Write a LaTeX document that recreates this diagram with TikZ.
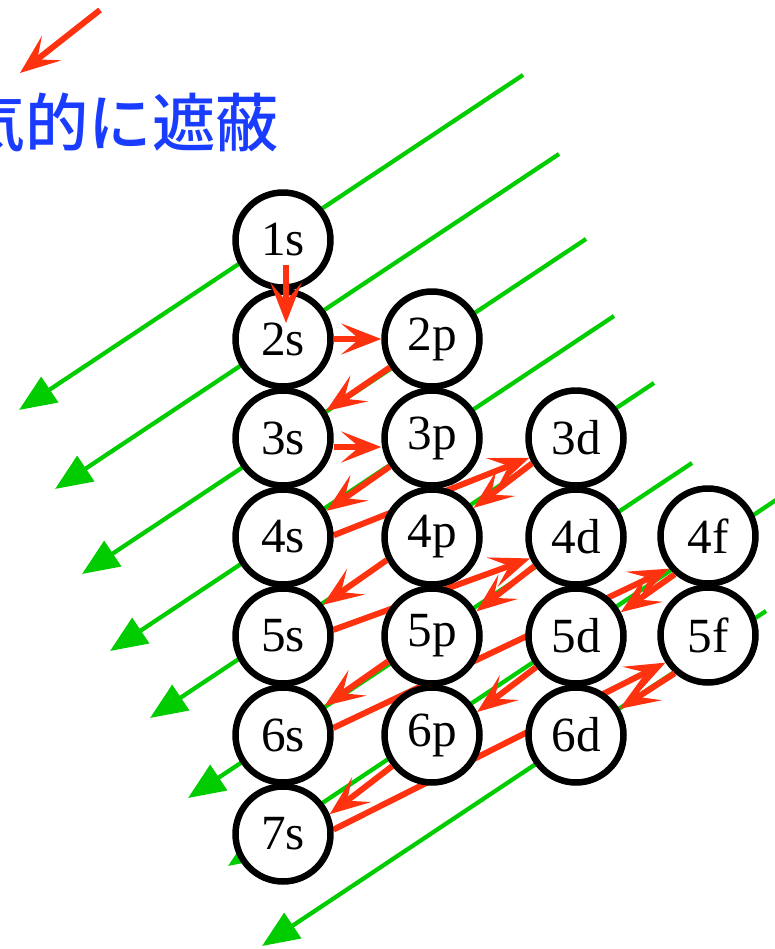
\documentclass[tikz,border=0pt]{standalone}
\usepackage{fontspec}
\setmainfont{Liberation Serif}
\newfontfamily\jpfont{Noto Sans CJK JP Medium}
\usetikzlibrary{arrows.meta,calc,backgrounds}
\definecolor{shellred}{HTML}{FF3210}
\definecolor{shellgreen}{HTML}{00CC00}
\definecolor{shieldblue}{HTML}{1A3CFF}
\tikzset{
  orb/.style       = {circle, draw=black, fill=white, line width=0.13cm,
                      minimum size=1.9cm, inner sep=0pt,
                      font=\fontsize{28}{28}\selectfont},
  fillarrow/.style = {-{Stealth[length=0.8cm, width=0.62cm, inset=0.36cm]},
                      line width=0.12cm, shellred},
  diagline/.style  = {-{Triangle[length=0.74cm, width=0.6cm]},
                      line width=0.085cm, shellgreen},
}

\begin{document}
\begin{tikzpicture}[x=0.02cm, y=-0.02cm]
\useasboundingbox (0,0) rectangle (774,949);

% Label and hint arrow in the upper left corner
\coordinate (hintfrom) at (100,10);
\coordinate (hintto)   at (20,73);
\draw[fillarrow] (hintfrom) -- (hintto);
\node[anchor=base east, inner sep=0pt, text=shieldblue,
      font=\jpfont\fontsize{36}{36}\selectfont] (shield) at (279,147) {気的に遮蔽};

% Orbitals: s, p, d, f columns, one row per shell
\foreach \name/\x/\y in {1s/283/240,
    2s/283/339, 2p/432/339,
    3s/283/438, 3p/432/438, 3d/576/438,
    4s/283/537, 4p/432/537, 4d/576/537, 4f/708/536,
    5s/283/636, 5p/432/636, 5d/576/636, 5f/708/635,
    6s/283/735, 6p/432/735, 6d/576/735,
    7s/283/834} {
  \node[orb] (\name) at (\x,\y) {\name};
}

\begin{scope}[on background layer]
  % Green diagonals behind the circles
  \foreach \i/\xa/\ya/\xb/\yb in {1/523/75/19/410, 2/559/154/55/489,
      3/586/239/82/574, 4/614/316/110/651, 5/654/383/150/718,
      6/692/463/188/798, 7/776/500/228/866, 8/766/611/262/946} {
    \coordinate (top\i) at (\xa,\ya);
    \coordinate (tip\i) at (\xb,\yb);
    \draw[diagline] (top\i) -- (tip\i);
  }
  % Jumps from each s orbital to the next diagonal
  \draw[fillarrow] (4s.2) -- (3d.203);
  \draw[fillarrow] (5s.7) -- (4d.205);
  \draw[fillarrow] (6s.8) -- (4f.220);
  \draw[fillarrow] (7s.5) -- (5f.213);
\end{scope}

% Filling order along each diagonal
\draw[fillarrow] ($(1s.center)+(3,25)$) -- ($(2s.center)+(3,-16)$);
\draw[fillarrow] (2s.east) -- (2p.west);
\draw[fillarrow] (2p.214) -- (3s.32);
\draw[fillarrow] ([yshift=-0.18cm]3s.east) -- ([yshift=-0.18cm]3p.west);
\draw[fillarrow] (3p.214) -- (4s.31);
\draw[fillarrow] (3d.210) -- (4p.35);
\draw[fillarrow] (4p.207) -- (5s.38);
\draw[fillarrow] (4d.215) -- (5p.29);
\draw[fillarrow] (5p.210) -- (6s.35);
\draw[fillarrow] (4f.229) -- (5d.28);
\draw[fillarrow] (5d.218) -- (6p.27);
\draw[fillarrow] (6p.218) -- (7s.23);
\draw[fillarrow] (5f.229) -- (6d.31);
\end{tikzpicture}
\end{document}
